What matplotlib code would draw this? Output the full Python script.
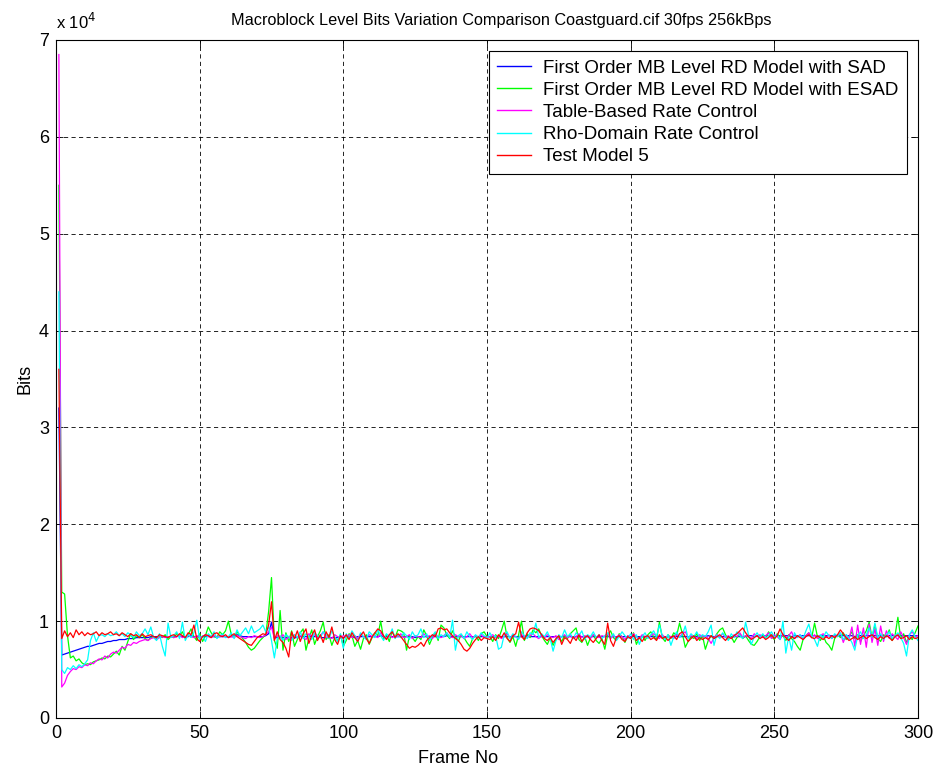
import numpy as np
import matplotlib
matplotlib.use('Agg')
import matplotlib.pyplot as plt
from matplotlib.ticker import FuncFormatter

plt.rcParams['font.family'] = ['Liberation Sans', 'DejaVu Sans']

# bits per frame, stored in kbits
frames = np.arange(1, 301)

sad_kb = [
    32.0, 6.5, 6.6, 6.7, 6.8, 6.9, 7.0, 7.1, 7.2, 7.3, 7.4, 7.4, 7.5, 7.6, 7.7, 7.7, 7.8, 7.9, 7.9, 8.0,
    8.0, 8.1, 8.1, 8.1, 8.2, 8.2, 8.2, 8.3, 8.3, 8.3, 8.3, 8.3, 8.4, 8.4, 8.4, 8.4, 8.4, 8.4, 8.4, 8.4,
    8.4, 8.4, 8.5, 8.4, 8.4, 8.4, 8.5, 8.4, 8.4, 8.4, 8.4, 8.4, 8.5, 8.4, 8.4, 8.4, 8.4, 8.4, 8.4, 8.4,
    8.4, 8.5, 8.6, 8.5, 8.4, 8.4, 8.4, 8.4, 8.4, 8.4, 8.4, 8.4, 8.5, 8.7, 9.9, 8.3, 8.3, 8.3, 8.3, 8.3,
    8.3, 8.3, 8.3, 8.3, 8.4, 8.4, 8.4, 8.4, 8.4, 8.4, 8.4, 8.3, 8.3, 8.3, 8.3, 8.3, 8.3, 8.3, 8.3, 8.3,
    8.4, 8.4, 8.4, 8.3, 8.4, 8.4, 8.4, 8.4, 8.4, 8.4, 8.4, 8.4, 8.5, 8.4, 8.4, 8.4, 8.4, 8.4, 8.4, 8.4,
    8.4, 8.4, 8.4, 8.4, 8.3, 8.4, 8.4, 8.4, 8.4, 8.4, 8.4, 8.4, 8.4, 8.4, 8.4, 8.5, 8.4, 8.4, 8.4, 8.4,
    8.4, 8.4, 8.4, 8.4, 8.4, 8.4, 8.4, 8.4, 8.4, 8.4, 8.4, 8.4, 8.4, 8.4, 8.4, 8.4, 8.4, 8.4, 8.4, 8.4,
    8.4, 8.4, 8.4, 8.5, 8.4, 8.4, 8.4, 8.4, 8.4, 8.4, 8.4, 8.4, 8.4, 8.4, 8.4, 8.4, 8.4, 8.4, 8.4, 8.4,
    8.4, 8.4, 8.4, 8.4, 8.4, 8.4, 8.4, 8.4, 8.4, 8.4, 8.4, 8.4, 8.4, 8.4, 8.4, 8.4, 8.4, 8.4, 8.4, 8.4,
    8.4, 8.4, 8.4, 8.4, 8.4, 8.4, 8.4, 8.4, 8.4, 8.4, 8.4, 8.4, 8.4, 8.4, 8.4, 8.4, 8.4, 8.4, 8.4, 8.4,
    8.4, 8.4, 8.4, 8.4, 8.4, 8.4, 8.5, 8.4, 8.4, 8.4, 8.4, 8.4, 8.4, 8.4, 8.4, 8.4, 8.4, 8.4, 8.4, 8.4,
    8.5, 8.5, 8.4, 8.5, 8.5, 8.5, 8.5, 8.5, 8.4, 8.5, 8.5, 8.5, 8.5, 8.5, 8.5, 8.4, 8.5, 8.5, 8.5, 8.5,
    8.5, 8.5, 8.5, 8.5, 8.4, 8.5, 8.5, 8.5, 8.5, 8.5, 8.5, 8.5, 8.5, 8.5, 8.5, 8.5, 8.5, 8.4, 8.5, 8.5,
    8.5, 8.5, 8.5, 8.5, 8.5, 8.5, 8.5, 8.5, 8.4, 8.5, 8.5, 8.5, 8.5, 8.5, 8.5, 8.5, 8.5, 8.5, 8.5, 8.5,
]

esad_kb = [
    55.0, 13.0, 12.8, 8.5, 6.2, 6.4, 5.9, 6.1, 5.7, 5.5, 5.6, 5.5, 5.8, 5.9, 6.0, 6.2, 6.1, 6.4, 6.3, 6.6,
    6.9, 6.5, 7.4, 7.0, 7.9, 8.7, 8.1, 8.5, 8.3, 8.6, 8.2, 8.0, 8.3, 8.4, 8.2, 8.5, 8.3, 8.6, 8.1, 8.4,
    8.3, 8.7, 8.5, 8.9, 8.2, 8.6, 9.2, 8.4, 8.0, 8.7, 7.9, 8.5, 9.4, 8.8, 8.4, 8.3, 8.9, 8.6, 9.0, 10.0,
    8.6, 8.3, 8.9, 8.5, 8.2, 7.8, 7.3, 7.0, 7.2, 7.6, 8.0, 8.3, 8.6, 11.0, 14.5, 8.0, 7.2, 11.1, 7.0, 8.8,
    7.9, 9.0, 7.4, 8.1, 8.8, 9.2, 7.0, 8.2, 9.1, 7.6, 8.4, 9.0, 9.9, 8.1, 8.6, 7.5, 8.3, 8.0, 8.6, 7.4,
    8.0, 8.7, 8.5, 7.4, 8.0, 7.1, 8.2, 8.6, 7.6, 8.3, 8.8, 8.5, 10.0, 8.2, 8.6, 7.9, 9.0, 8.3, 9.1, 9.0,
    8.8, 7.0, 8.5, 8.3, 7.9, 8.4, 8.1, 9.1, 8.5, 7.6, 8.3, 8.8, 8.0, 9.6, 9.3, 8.6, 8.2, 9.0, 8.4, 7.9,
    8.6, 8.3, 7.8, 7.4, 8.2, 8.5, 8.0, 8.7, 8.9, 8.4, 8.4, 7.9, 8.6, 8.2, 9.0, 10.0, 8.3, 7.8, 8.4, 7.4,
    8.6, 10.0, 8.0, 8.7, 8.3, 9.1, 8.8, 9.2, 8.5, 8.0, 7.6, 8.3, 7.5, 8.1, 8.4, 7.9, 8.5, 8.2, 8.7, 9.0,
    9.3, 8.1, 7.8, 8.4, 7.5, 8.3, 8.6, 8.0, 7.7, 8.2, 7.1, 8.6, 9.0, 8.3, 8.0, 8.7, 8.4, 7.8, 8.5, 8.2,
    8.8, 7.6, 8.3, 8.5, 8.0, 8.6, 8.9, 8.4, 8.1, 9.9, 8.3, 7.9, 8.6, 8.2, 8.8, 8.5, 9.8, 8.7, 7.3, 7.9,
    8.4, 8.2, 8.7, 8.0, 8.5, 7.1, 8.0, 8.5, 8.2, 8.7, 9.1, 9.3, 8.6, 8.1, 8.4, 7.8, 8.3, 8.7, 8.2, 8.5,
    8.0, 7.6, 7.5, 7.9, 8.4, 8.6, 8.2, 8.9, 8.4, 8.1, 8.7, 8.3, 8.5, 8.0, 8.6, 8.2, 7.9, 7.4, 7.0, 8.1,
    8.5, 8.8, 8.3, 9.8, 8.4, 8.0, 8.5, 7.8, 7.5, 7.0, 8.2, 8.6, 8.3, 8.8, 8.1, 8.4, 8.9, 8.2, 8.6, 7.9,
    8.5, 9.0, 9.9, 8.3, 9.6, 8.2, 7.9, 8.6, 8.4, 9.1, 8.0, 8.5, 10.4, 8.2, 8.7, 7.8, 8.4, 8.1, 8.8, 9.5,
]

table_kb = [
    68.5, 3.2, 3.6, 4.4, 4.8, 5.1, 5.0, 5.3, 5.2, 5.5, 5.4, 5.7, 5.6, 5.9, 6.1, 6.0, 6.4, 6.2, 6.6, 6.8,
    6.7, 7.0, 7.3, 7.2, 7.6, 7.5, 7.8, 7.7, 7.9, 8.0, 8.1, 8.0, 8.2, 8.3, 8.1, 8.3, 8.4, 8.3, 8.4, 8.4,
    8.3, 8.4, 8.5, 8.3, 8.4, 8.5, 8.4, 8.3, 8.5, 8.4, 8.4, 8.6, 8.4, 8.3, 8.5, 8.4, 8.4, 8.5, 8.4, 8.3,
    8.4, 8.3, 8.5, 8.4, 8.3, 8.2, 8.4, 8.3, 8.5, 8.4, 8.3, 8.4, 8.6, 8.9, 9.4, 8.2, 8.5, 8.3, 8.6, 8.1,
    8.4, 8.2, 8.6, 8.3, 8.5, 8.3, 8.1, 8.7, 8.4, 8.6, 8.2, 8.5, 8.9, 8.3, 8.4, 8.2, 8.6, 8.4, 8.3, 8.5,
    8.4, 8.6, 8.3, 8.5, 8.2, 8.7, 8.4, 8.3, 8.6, 8.4, 8.5, 8.3, 8.8, 8.4, 8.2, 8.6, 8.3, 8.5, 8.4, 8.7,
    8.3, 8.4, 8.6, 8.2, 8.5, 8.4, 8.3, 8.7, 8.4, 8.5, 8.2, 8.6, 8.4, 8.3, 8.5, 8.8, 8.4, 8.3, 8.6, 8.4,
    8.5, 8.2, 8.4, 8.7, 8.3, 8.5, 8.4, 8.6, 8.3, 8.4, 8.4, 8.6, 8.3, 8.5, 8.2, 8.4, 8.7, 8.3, 8.5, 8.4,
    8.2, 8.6, 8.4, 8.3, 8.5, 8.7, 8.4, 8.2, 8.5, 8.3, 8.6, 8.4, 8.3, 8.5, 8.1, 8.4, 8.6, 8.3, 8.5, 8.2,
    8.4, 8.7, 8.3, 8.5, 8.4, 8.2, 8.6, 8.4, 8.3, 8.5, 8.4, 8.7, 8.2, 8.5, 8.3, 8.6, 8.4, 8.1, 8.5, 8.3,
    8.7, 8.4, 8.2, 8.6, 8.4, 8.3, 8.5, 8.7, 8.4, 8.2, 8.6, 8.3, 8.5, 8.4, 8.2, 8.6, 8.4, 8.7, 8.9, 8.3,
    8.5, 8.4, 8.2, 8.6, 8.4, 8.5, 8.2, 7.7, 8.3, 8.6, 8.4, 8.7, 8.3, 8.5, 8.2, 8.6, 8.4, 8.8, 8.3, 8.5,
    8.4, 8.2, 8.7, 8.4, 8.6, 8.3, 8.5, 8.8, 8.2, 8.6, 8.4, 8.1, 8.7, 8.3, 8.5, 8.9, 8.2, 8.4, 8.6, 8.1,
    8.5, 8.8, 8.3, 8.6, 8.2, 8.5, 8.7, 8.3, 8.6, 8.2, 8.5, 8.4, 8.8, 7.8, 8.6, 8.2, 9.4, 7.4, 9.6, 7.6,
    9.3, 7.3, 9.7, 7.8, 9.2, 7.5, 9.5, 7.9, 9.0, 8.2, 8.7, 8.4, 8.1, 8.9, 8.3, 7.6, 8.6, 8.9, 8.4, 8.5,
]

rho_kb = [
    44.0, 5.0, 4.6, 5.2, 5.0, 5.4, 5.1, 5.5, 5.3, 5.6, 6.0, 8.0, 8.8, 7.9, 8.5, 8.6, 8.4, 8.7, 8.5, 8.6,
    8.9, 8.5, 8.7, 8.4, 8.8, 8.6, 8.3, 8.9, 8.5, 8.7, 9.2, 8.6, 9.4, 8.3, 8.0, 8.7, 7.4, 6.4, 9.8, 8.3,
    8.5, 8.9, 8.2, 9.9, 8.0, 8.6, 8.3, 8.8, 10.1, 8.1, 8.5, 7.9, 8.7, 8.4, 8.9, 8.2, 8.5, 8.7, 8.3, 8.4,
    8.8, 8.2, 9.1, 8.5, 8.9, 9.3, 8.7, 9.5, 8.8, 9.0, 9.2, 9.6, 8.9, 9.4, 8.0, 6.2, 8.2, 8.5, 8.0, 8.6,
    8.4, 8.0, 8.6, 8.3, 8.9, 8.2, 8.7, 8.4, 8.1, 8.8, 8.5, 8.3, 8.9, 8.6, 8.2, 9.0, 8.4, 7.9, 8.7, 7.2,
    8.7, 8.2, 9.0, 8.5, 7.9, 8.8, 8.4, 8.1, 8.9, 8.6, 8.3, 9.1, 8.5, 8.0, 8.7, 8.4, 9.2, 8.2, 8.6, 8.3,
    8.8, 8.5, 8.1, 8.9, 8.4, 8.6, 9.2, 8.3, 8.7, 8.0, 8.5, 8.9, 8.2, 8.6, 8.4, 8.8, 8.3, 10.1, 7.0, 8.5,
    8.7, 8.2, 8.9, 8.4, 8.1, 8.6, 8.3, 8.8, 8.5, 8.2, 8.8, 8.3, 8.5, 7.1, 7.3, 8.6, 8.9, 8.2, 8.7, 8.4,
    8.1, 8.9, 8.5, 8.2, 8.8, 8.6, 9.8, 8.3, 8.7, 8.4, 8.9, 8.2, 6.9, 8.0, 8.6, 8.3, 9.1, 8.4, 8.7, 8.2,
    8.8, 8.5, 9.0, 8.1, 8.6, 8.4, 8.9, 8.3, 8.6, 8.2, 8.5, 8.8, 8.3, 8.7, 8.0, 8.4, 8.9, 8.5, 8.2, 8.7,
    8.1, 8.6, 7.6, 8.4, 8.8, 8.2, 8.6, 9.0, 8.4, 9.6, 8.5, 8.1, 8.6, 7.5, 8.4, 8.9, 8.3, 8.6, 9.5, 8.2,
    8.7, 8.4, 8.9, 8.3, 8.6, 8.4, 8.9, 9.6, 7.5, 8.6, 8.2, 8.8, 8.4, 8.0, 8.7, 8.3, 8.9, 8.5, 8.2, 9.9,
    8.6, 7.6, 8.4, 8.8, 8.3, 8.7, 8.2, 8.5, 8.9, 8.3, 8.6, 8.1, 10.0, 6.7, 8.4, 7.0, 8.8, 8.3, 8.6, 8.2,
    9.0, 9.7, 8.5, 8.1, 7.4, 8.6, 8.3, 8.9, 8.5, 8.2, 8.7, 8.4, 8.8, 8.1, 8.6, 8.3, 7.8, 7.0, 8.5, 8.9,
    8.2, 8.6, 9.3, 8.4, 9.8, 8.3, 8.7, 8.1, 8.6, 8.9, 8.2, 8.5, 8.8, 8.3, 7.7, 6.4, 8.6, 9.1, 8.4, 8.0,
]

tm5_kb = [
    36.0, 8.2, 9.0, 8.4, 8.8, 8.3, 9.1, 8.6, 8.9, 8.5, 8.8, 8.6, 8.7, 8.9, 8.5, 8.8, 8.6, 8.7, 8.9, 8.6,
    8.7, 8.5, 8.8, 8.6, 8.4, 8.7, 8.5, 8.6, 8.3, 8.7, 8.4, 8.5, 8.6, 8.4, 8.3, 8.6, 8.5, 8.4, 8.3, 8.5,
    8.6, 8.4, 8.7, 8.5, 8.3, 8.8, 8.6, 9.6, 8.2, 7.9, 8.4, 8.6, 8.5, 8.3, 8.7, 8.8, 8.5, 8.4, 8.6, 8.3,
    8.5, 8.7, 8.4, 8.2, 8.0, 7.8, 7.6, 7.5, 7.9, 8.3, 8.5, 8.7, 8.6, 9.6, 12.0, 8.0, 8.9, 8.1, 7.8, 7.2,
    6.3, 8.9, 8.2, 9.0, 7.9, 8.7, 9.2, 7.7, 8.5, 9.1, 8.0, 8.6, 7.8, 8.9, 8.3, 9.4, 8.1, 7.6, 8.5, 8.2,
    8.6, 8.1, 8.8, 8.3, 7.9, 8.5, 8.9, 8.2, 7.7, 8.4, 8.8, 9.2, 9.0, 8.5, 8.1, 8.6, 8.9, 8.3, 8.7, 8.4,
    8.0, 7.6, 7.2, 7.4, 7.3, 7.5, 7.8, 7.4, 8.0, 8.3, 8.6, 8.4, 9.2, 9.3, 9.1, 9.2, 8.8, 8.5, 8.2, 8.0,
    7.6, 7.1, 6.9, 7.2, 7.7, 8.1, 8.4, 8.0, 8.3, 8.2, 8.1, 8.4, 8.0, 8.6, 8.3, 8.8, 8.2, 7.9, 8.5, 8.7,
    9.9, 8.4, 8.1, 8.8, 9.2, 9.3, 9.2, 9.0, 8.6, 8.2, 8.0, 8.3, 7.8, 8.2, 8.5, 7.6, 8.3, 8.1, 7.7, 8.4,
    8.0, 8.6, 7.9, 8.3, 8.5, 8.1, 7.8, 8.2, 8.6, 8.0, 7.6, 9.8, 8.0, 7.4, 8.3, 8.5, 8.1, 7.9, 8.4, 8.2,
    8.6, 8.0, 8.3, 7.9, 8.4, 8.5, 8.1, 8.3, 8.0, 8.6, 8.2, 8.4, 8.0, 8.3, 8.5, 8.1, 8.7, 8.9, 8.4, 7.9,
    8.2, 8.5, 8.0, 8.3, 8.1, 8.3, 8.1, 8.5, 8.2, 8.4, 8.6, 8.3, 8.0, 8.4, 8.2, 8.5, 8.7, 9.0, 9.3, 8.8,
    8.4, 8.1, 8.3, 8.5, 8.2, 8.4, 8.1, 8.3, 8.6, 8.2, 8.5, 9.2, 8.6, 8.3, 8.0, 8.4, 8.2, 8.5, 8.3, 8.1,
    8.4, 8.6, 8.3, 8.2, 8.5, 8.3, 8.1, 8.4, 8.2, 8.5, 8.3, 8.6, 9.1, 8.7, 8.3, 8.0, 8.2, 8.4, 8.1, 8.3,
    8.5, 8.2, 8.4, 8.6, 8.3, 8.1, 8.4, 8.2, 8.5, 8.3, 8.0, 8.4, 8.6, 8.2, 8.3, 8.5, 8.1, 8.4, 8.2, 8.3,
]

labels = ['First Order MB Level RD Model with SAD',
          'First Order MB Level RD Model with ESAD',
          'Table-Based Rate Control',
          'Rho-Domain Rate Control',
          'Test Model 5']
colors = ['#0000ff', '#00ff00', '#ff00ff', '#00ffff', '#ff0000']
series = [sad_kb, esad_kb, table_kb, rho_kb, tm5_kb]

fig = plt.figure(figsize=(9.39, 7.72), dpi=100, facecolor='w')
ax = fig.add_axes([56/939, 54/772, 862/939, 678/772])

for vals, lab, col in zip(series, labels, colors):
    bits = np.array(vals) * 1000
    ax.plot(frames, bits, color=col, lw=0.9, label=lab)

ax.set_xlim(0, 300)
ax.set_ylim(0, 70000)
ax.set_xticks(np.arange(0, 301, 50))
ax.set_yticks(np.arange(0, 70001, 10000))
ax.yaxis.set_major_formatter(FuncFormatter(lambda v, p: '{:g}'.format(v / 1e4)))
ax.tick_params(direction='in', top=True, right=True, length=5, width=0.6,
               labelsize=13, pad=5)
ax.grid(True, color='k', ls=(0, (5, 4)), lw=0.6)
for s in ax.spines.values():
    s.set_linewidth(0.8)

# matlab puts title and xlabel a little off centre
ax.set_title('Macroblock Level Bits Variation Comparison Coastguard.cif 30fps 256kBps',
             fontsize=11.7, pad=11, x=0.516)
ax.set_xlabel('Frame No', fontsize=13, labelpad=9)
ax.xaxis.set_label_coords(0.466, -0.047)
ax.set_ylabel('Bits', fontsize=13, labelpad=4)
ax.text(0.0, 1.012, r'x 10$^{4}$', transform=ax.transAxes, fontsize=12, ha='left', va='bottom')

leg = ax.legend(loc='upper right', fontsize=13.5, fancybox=False, framealpha=1,
                edgecolor='k', handlelength=1.8, handletextpad=0.65,
                labelspacing=0.27, borderaxespad=0.6, borderpad=0.44)
leg.get_frame().set_linewidth(0.8)
for h in leg.get_lines():
    h.set_linewidth(1.0)

plt.savefig('out.png', dpi=100)
